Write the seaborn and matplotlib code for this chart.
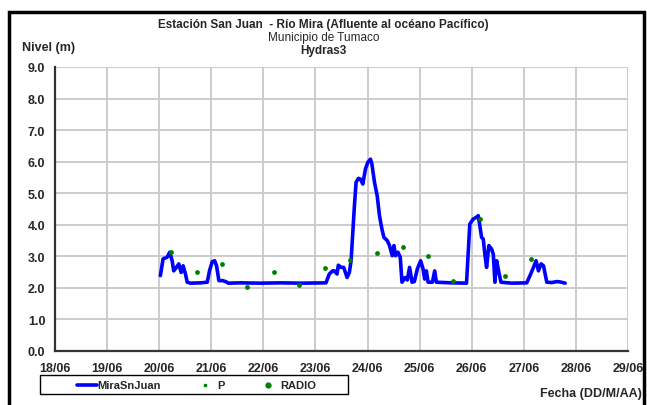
import numpy as np
import pandas as pd
import matplotlib
matplotlib.use("Agg")
import matplotlib.pyplot as plt
from matplotlib.patches import Rectangle
from matplotlib.lines import Line2D
import seaborn as sns

# ---- data (x = days since 18/06 00:00) ----
mira_day = [2.023, 2.075, 2.152, 2.202, 2.249, 2.279, 2.331, 2.376, 2.422, 2.46, 2.505, 2.538,
            2.60, 2.794, 2.923, 2.967, 3.019, 3.064, 3.102, 3.146, 3.218, 3.275, 3.33, 3.56,
            3.95, 4.335, 4.72, 5.202, 5.266, 5.331, 5.362, 5.414, 5.439, 5.491, 5.543, 5.607,
            5.651, 5.684, 5.748, 5.780, 5.825, 5.863, 5.909, 5.960, 6.006, 6.056, 6.083, 6.133,
            6.185, 6.229, 6.275, 6.314, 6.378, 6.422, 6.474, 6.507, 6.538, 6.584, 6.628, 6.661,
            6.724, 6.763, 6.807, 6.854, 6.898, 6.956, 7.019, 7.066, 7.096, 7.129, 7.162, 7.245,
            7.289, 7.322, 7.611, 7.90, 7.963, 8.028, 8.092, 8.125, 8.156, 8.189, 8.221, 8.252,
            8.285, 8.329, 8.382, 8.414, 8.445, 8.478, 8.522, 8.561, 8.767, 9.056, 9.119, 9.185,
            9.235, 9.281, 9.331, 9.378, 9.441, 9.538, 9.634, 9.692, 9.794]
mira_val = [2.39, 2.92, 2.97, 3.13, 2.86, 2.54, 2.65, 2.76, 2.49, 2.70, 2.44, 2.18,
            2.15, 2.16, 2.18, 2.55, 2.83, 2.86, 2.70, 2.23, 2.23, 2.20, 2.15, 2.16,
            2.15, 2.16, 2.15, 2.16, 2.44, 2.54, 2.54, 2.44, 2.72, 2.65, 2.65, 2.33,
            2.49, 2.86, 4.60, 5.35, 5.47, 5.45, 5.29, 5.77, 5.98, 6.08, 5.93, 5.35,
            4.92, 4.29, 3.87, 3.60, 3.50, 3.34, 3.02, 3.34, 3.02, 3.13, 2.97, 2.18,
            2.33, 2.25, 2.65, 2.18, 2.20, 2.60, 2.86, 2.60, 2.28, 2.54, 2.18, 2.18,
            2.54, 2.18, 2.16, 2.15, 4.02, 4.18, 4.24, 4.29, 3.97, 3.60, 3.55, 3.07,
            2.65, 3.34, 3.23, 3.07, 2.18, 2.86, 2.49, 2.18, 2.15, 2.16, 2.39, 2.65,
            2.86, 2.54, 2.76, 2.70, 2.18, 2.17, 2.20, 2.19, 2.15]

radio_day = [2.229, 2.717, 3.212, 3.694, 4.195, 4.688, 5.183, 5.671, 6.179, 6.672, 7.168,
             7.649, 8.156, 8.638, 9.139]
radio_val = [3.13, 2.51, 2.76, 2.02, 2.49, 2.09, 2.62, 2.88, 3.09, 3.28, 3.02,
             2.21, 4.18, 2.37, 2.90]

p_day = []
p_val = []

x_tick_labels = ["18/06", "19/06", "20/06", "21/06", "22/06", "23/06", "24/06",
                 "25/06", "26/06", "27/06", "28/06", "29/06"]
y_ticks = [0.0, 1.0, 2.0, 3.0, 4.0, 5.0, 6.0, 7.0, 8.0, 9.0]

sns.set_style("white")
plt.rcParams["font.family"] = ["Liberation Sans", "DejaVu Sans"]

W, H = 647, 406
fig = plt.figure(figsize=(6.47, 4.06), dpi=100)
ax = fig.add_axes([55 / W, 1 - 352 / H, (628 - 55) / W, (352 - 68) / H])

df_m = pd.DataFrame({"x": mira_day, "y": mira_val})
df_r = pd.DataFrame({"x": radio_day, "y": radio_val})
sns.lineplot(data=df_m, x="x", y="y", ax=ax, color="#0000FF", linewidth=2.6, zorder=3)
if p_day:
    sns.scatterplot(x=p_day, y=p_val, ax=ax, color="#008000", marker="s", s=6, linewidth=0, zorder=4)
sns.scatterplot(data=df_r, x="x", y="y", ax=ax, color="#008000", s=12, linewidth=0, zorder=4)

ax.set_xlim(0, 11)
ax.set_ylim(0, 9)
ax.set_xticks(range(len(x_tick_labels)))
ax.set_xticklabels(x_tick_labels)
ax.set_yticks(y_ticks)
ax.set_yticklabels([f"{v:.1f}" for v in y_ticks])
ax.set_xlabel("")
ax.set_ylabel("")
ax.grid(True, color="#c8c8c8", linewidth=1.3)
ax.set_axisbelow(True)
for s in ["top", "right"]:
    ax.spines[s].set_visible(False)
for s in ["left", "bottom"]:
    ax.spines[s].set_color("#333333")
    ax.spines[s].set_linewidth(1.6)
ax.tick_params(axis="both", direction="out", length=4, width=1, color="#333333",
               labelsize=9, pad=3)
ax.tick_params(axis="x", pad=4)
for lbl in ax.get_xticklabels() + ax.get_yticklabels():
    lbl.set_fontweight("bold")

# titles
fig.text(0.5, 1 - 25 / H, "Estación San Juan  - Río Mira (Afluente al océano Pacífico)",
         ha="center", va="center", fontsize=8.5, fontweight="bold")
fig.text(0.5, 1 - 38 / H, "Municipio de Tumaco", ha="center", va="center", fontsize=8.5)
fig.text(0.5, 1 - 51 / H, "Hydras3", ha="center", va="center", fontsize=8.5, fontweight="bold")
fig.text(22 / W, 1 - 48 / H, "Nivel (m)", ha="left", va="center", fontsize=9, fontweight="bold")
fig.text(642 / W, 1 - 394 / H, "Fecha (DD/M/AA)", ha="right", va="center", fontsize=9,
         fontweight="bold")

# outer frame
fig.patches.append(Rectangle((9 / W, -0.05), (644 - 9) / W, 1.05 - 13 / H,
                             transform=fig.transFigure, fill=False, edgecolor="black",
                             linewidth=2.5, zorder=10))

# legend (drawn in figure pixels)
fig.patches.append(Rectangle((40 / W, 1 - 395 / H), (348 - 40) / W, 19 / H,
                             transform=fig.transFigure, fill=False, edgecolor="black",
                             linewidth=1.0, zorder=10))
ly = 1 - 386 / H
fig.add_artist(Line2D([77 / W, 97 / W], [ly, ly], transform=fig.transFigure,
                      color="#0000FF", linewidth=2.6))
fig.text(97 / W, ly, "MiraSnJuan", ha="left", va="center", fontsize=8, fontweight="bold")
fig.add_artist(Line2D([205 / W], [ly], transform=fig.transFigure, color="#008000",
                      marker="s", markersize=2, linestyle="none"))
fig.text(217 / W, ly, "P", ha="left", va="center", fontsize=8, fontweight="bold")
fig.add_artist(Line2D([268 / W], [ly], transform=fig.transFigure, color="#008000",
                      marker="o", markersize=3.5, linestyle="none"))
fig.text(280 / W, ly, "RADIO", ha="left", va="center", fontsize=8, fontweight="bold")

fig.savefig("out.png", dpi=100)
